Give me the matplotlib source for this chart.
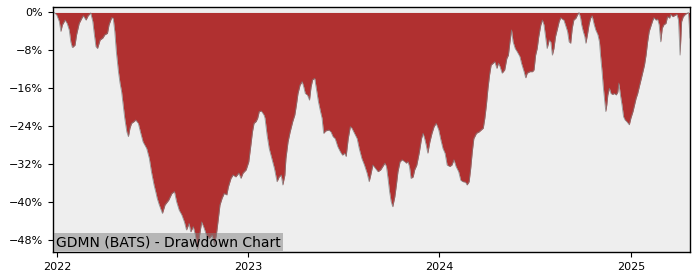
import matplotlib
matplotlib.use("Agg")
import matplotlib.pyplot as plt
import matplotlib.ticker as mticker
import pandas as pd
import numpy as np

title_text = "GDMN (BATS) - Drawdown Chart"
start_date = "2022-01-01"

# days relative to 2022-01-01
day_offset = [
    -8, -6, -1, 4, 7, 10, 15, 19, 23, 26,
    29, 34, 37, 42, 47, 50, 55, 59, 64, 68,
    71, 74, 77, 82, 87, 91, 96, 99, 104, 107,
    110, 113, 117, 120, 123, 126, 129, 133, 136, 139,
    142, 147, 150, 155, 159, 164, 171, 176, 180, 185,
    189, 191,
    195, 201, 206, 213, 219, 224, 228, 233, 238, 243,
    247, 252, 255, 260, 264, 268, 271, 276, 281, 285,
    290, 296, 300, 304, 308, 311, 315, 319, 324, 327,
    332, 336, 341, 347, 351, 355, 361, 366, 370, 373,
    376, 380, 383, 386, 390, 395,
    397, 401, 405, 410, 415, 420, 424, 428, 431, 435,
    437, 441, 445, 450, 454, 457, 460, 464, 468, 471,
    474, 478, 482, 485, 488, 492, 495, 499, 503, 506,
    509, 513, 519, 523, 527, 531, 536, 541, 545, 549,
    552, 556, 560, 563, 568, 573, 577, 582, 587, 592,
    596,
    599, 603, 608, 613, 618, 622, 626, 629, 632, 635,
    638, 641, 645, 648, 651, 655, 659, 664, 667, 670,
    673, 676, 680, 683, 687, 692, 696, 699, 702, 705,
    708, 712, 716, 720, 724, 729, 733, 737, 741, 745,
    750, 754, 758, 762, 767, 771, 775, 780, 783, 787,
    790, 793, 796,
    801, 806, 810, 814, 817, 820, 823, 826, 829, 833,
    836, 840, 843, 846, 850, 855, 859, 862, 865, 868,
    871, 875, 879, 884, 887, 892, 895, 898, 903, 908,
    911, 914, 917, 920, 924, 927, 930, 933, 936, 940,
    943, 946, 949, 952, 956, 959, 962, 965, 968, 971,
    975, 978, 981, 984, 987, 991, 994, 997, 1000,
    1002, 1005, 1008, 1010, 1013, 1016, 1019, 1022, 1026, 1029,
    1033, 1036, 1038, 1041, 1043, 1046, 1048, 1050, 1052, 1055,
    1058, 1061, 1064, 1068, 1071, 1073, 1076, 1079, 1082, 1085,
    1088, 1091, 1093, 1096, 1100, 1103, 1106, 1109, 1112, 1116,
    1119, 1122, 1125, 1128, 1131, 1135, 1138, 1140, 1144, 1147,
    1150, 1153, 1156, 1159, 1163, 1166, 1170, 1172, 1176, 1179,
    1184, 1187, 1190, 1193, 1196, 1200, 1203, 1206, 1209,
]

drawdown_pct = [
    0.0, 0.0, -0.5, -1.9, -4.0, -2.6, -1.6, -2.3, -3.7, -6.2,
    -7.4, -6.9, -4.7, -2.3, -1.2, -0.7, -1.6, -0.7, -0.1, -1.9,
    -4.7, -7.2, -7.6, -5.8, -5.4, -4.7, -4.4, -2.6, -1.1, -1.2,
    -4.0, -8.3, -12.5, -14.9, -16.7, -19.5, -22.3, -25.2, -26.2, -24.4,
    -23.4, -23.0, -22.7, -23.4, -25.2, -27.3, -28.7, -30.8, -33.6, -36.4,
    -38.2, -39.2,
    -40.6, -42.4, -40.6, -39.6, -38.2, -37.8, -39.9, -41.7, -42.7, -44.2,
    -45.9, -44.5, -46.3, -45.2, -47.0, -50.0, -47.7, -44.2, -45.6, -47.0,
    -47.7, -47.0, -49.0, -47.0, -43.4, -40.6, -39.2, -38.2, -38.5, -36.8,
    -35.0, -34.3, -34.7, -33.9, -35.0, -33.9, -33.2, -31.5, -28.0, -25.2,
    -23.4, -23.0, -22.3, -20.9, -20.8, -21.6,
    -22.3, -25.9, -28.7, -30.8, -32.9, -35.7, -34.7, -34.3, -36.4, -34.3,
    -30.8, -27.3, -25.2, -23.0, -21.6, -19.5, -17.1, -15.3, -14.6, -15.7,
    -17.1, -17.4, -18.5, -15.7, -14.2, -13.9, -16.0, -18.8, -20.9, -22.3,
    -25.5, -25.0, -24.8, -25.2, -26.2, -26.6, -28.3, -29.4, -30.1, -29.7,
    -30.4, -26.6, -24.1, -24.4, -25.5, -26.6, -28.7, -30.8, -32.2, -33.9,
    -35.7,
    -34.3, -32.2, -32.9, -33.6, -33.2, -32.5, -31.8, -32.5, -35.0, -37.8,
    -39.9, -41.0, -38.9, -36.4, -33.6, -31.5, -31.1, -31.5, -31.8, -31.5,
    -32.5, -35.0, -34.7, -33.2, -32.2, -29.4, -26.6, -25.5, -26.6, -28.0,
    -29.7, -27.3, -25.5, -24.1, -23.4, -24.8, -26.9, -28.7, -29.7, -32.2,
    -32.5, -32.2, -31.1, -32.5, -33.6, -35.4, -35.7, -35.8, -36.4, -35.7,
    -32.9, -29.4, -26.6,
    -25.5, -25.2, -24.8, -24.4, -22.3, -19.5, -16.0, -13.2, -11.1, -10.7,
    -10.4, -11.8, -10.7, -11.4, -12.8, -12.1, -9.7, -9.0, -6.2, -3.7,
    -6.2, -7.6, -8.3, -9.3, -10.7, -12.5, -13.8, -12.8, -12.5, -12.5,
    -12.1, -9.0, -7.6, -5.1, -2.6, -1.6, -2.6, -5.1, -7.6, -5.8,
    -6.2, -9.0, -7.6, -5.1, -3.3, -1.9, -1.1, -1.4, -1.6, -2.6,
    -4.0, -6.2, -6.5, -3.3, -1.6, -1.2, -0.5, 0.0, -1.2,
    -2.6, -4.0, -5.1, -6.5, -4.7, -2.6, -1.2, -0.7, -2.6, -3.7,
    -4.7, -6.2, -9.0, -12.5, -15.3, -18.8, -20.9, -19.5, -17.4, -16.0,
    -17.1, -17.3, -17.1, -17.4, -16.8, -14.9, -17.4, -19.5, -22.0, -22.7,
    -23.0, -23.4, -23.7, -22.3, -20.9, -19.5, -18.1, -17.1, -15.7, -13.9,
    -12.5, -11.1, -9.0, -6.2, -4.0, -2.6, -1.6, -1.1, -1.6, -1.4,
    -2.6, -6.2, -3.3, -2.6, -2.3, -0.9, -1.2, -0.4, -0.9, -0.7,
    -0.4, -1.6, -9.0, -1.9, -0.9, -0.4, -0.2, 0.0, -5.4,
]

y_ticks = [0, -8, -16, -24, -32, -40, -48]
x_tick_years = ["2022", "2023", "2024", "2025"]

dates = pd.Timestamp(start_date) + pd.to_timedelta(day_offset, unit="D")
dd = np.array(drawdown_pct)

fig = plt.figure(figsize=(7, 2.8), dpi=100)
ax = fig.add_axes([53 / 700, 1 - 252 / 280, (690 - 53) / 700, (252 - 7) / 280])
ax.set_facecolor("#EEEEEE")

ax.fill_between(dates, dd, 0, color="#B03030", linewidth=0)
ax.plot(dates, dd, color="#808080", linewidth=0.6, alpha=0.8)

ax.set_xlim(dates[0], dates[-1])
ax.set_ylim(-50.55, 1.15)

ax.set_yticks(y_ticks)
ax.yaxis.set_major_formatter(mticker.FuncFormatter(
    lambda v, p: ("\u2212" if v < 0 else "") + f"{abs(v):.0f}%"))
ax.set_xticks([pd.Timestamp(y + "-01-01") for y in x_tick_years])
ax.set_xticklabels(x_tick_years)
ax.tick_params(labelsize=8, length=3.5)

for s in ax.spines.values():
    s.set_color("black")
    s.set_linewidth(1.0)

ax.text(0.005, 0.012, title_text, transform=ax.transAxes, fontsize=10,
        ha="left", va="bottom",
        bbox=dict(boxstyle="square,pad=0.15", facecolor="gray", alpha=0.5,
                  edgecolor="none"))

fig.savefig("out.png", dpi=100)
